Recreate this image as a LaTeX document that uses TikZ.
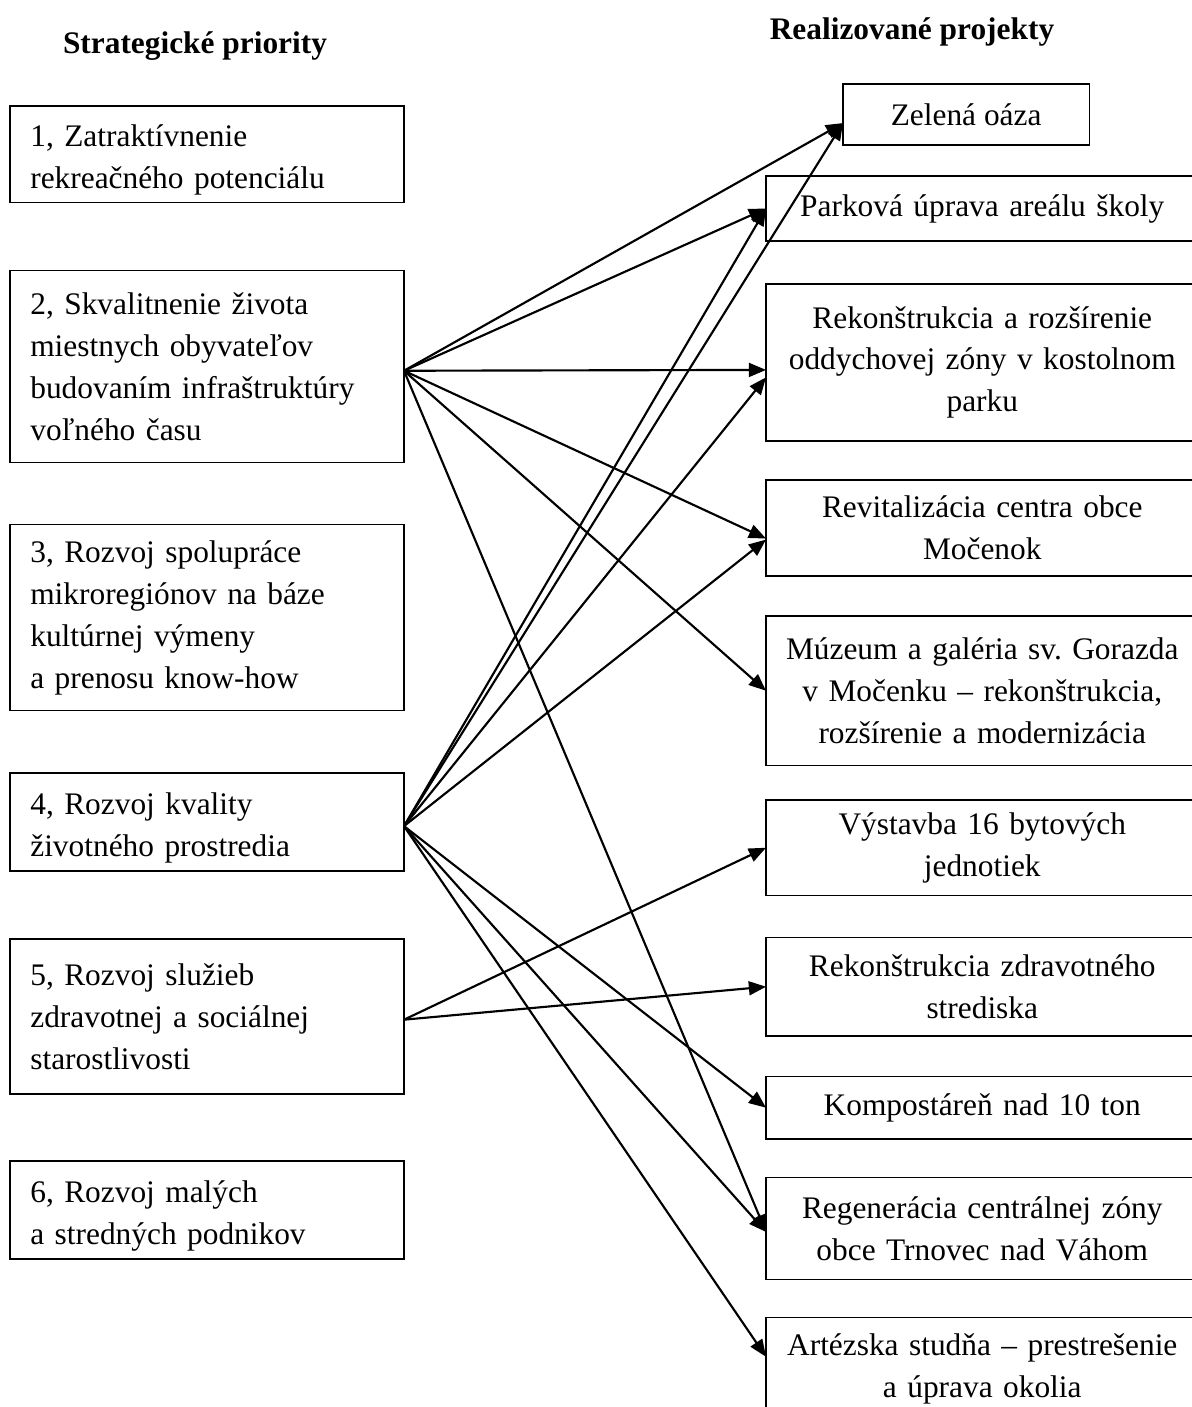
\documentclass[tikz,border=0pt]{standalone}
\usepackage{fontspec}
\setmainfont{Liberation Serif}
\usetikzlibrary{positioning,arrows.meta}
\frenchspacing

\begin{document}
\begin{tikzpicture}[x=0.467pt,y=-0.467pt,>={Triangle[length=8pt,width=6.5pt]},node distance=30pt,
    box/.style={draw,line width=0.7pt,outer sep=0pt,font=\fontsize{14.65pt}{19.6pt}\selectfont},
    prio node/.style={box,text width=165pt,inner xsep=9.5pt,align=left},
    low/.style={text height=15.6pt},
    proj node/.style={box,text width=190pt,inner xsep=6pt,align=center},
    head/.style={font=\bfseries\fontsize{14.65pt}{17pt}\selectfont}]
    \useasboundingbox (0,0) rectangle (1192,1407);

    \node[head] (hprio) at (195,46) {Strategické priority};
    \node[head] (hproj) at (912,32) {Realizované projekty};

    % strategicke priority
    \node[prio node,low,minimum height=44.8pt,anchor=north west] (p1) at (10,106) {1, Zatraktívnenie\\rekreačného potenciálu};
    \node[prio node,minimum height=89.7pt] (p2) [below=31.8pt of p1] {2, Skvalitnenie života\\miestnych obyvateľov\\budovaním infraštruktúry\\voľného času};
    \node[prio node,minimum height=86.9pt] (p3) [below=29pt of p2] {3, Rozvoj spolupráce\\mikroregiónov na báze\\kultúrnej výmeny\\a prenosu know-how};
    \node[prio node,low,minimum height=45.8pt] (p4) [below=29pt of p3] {4, Rozvoj kvality\\životného prostredia};
    \node[prio node,minimum height=72.4pt] (p5) [below=31.8pt of p4] {5, Rozvoj služieb\\zdravotnej a sociálnej\\starostlivosti};
    \node[prio node,low,minimum height=45.8pt] (p6) [below=31.3pt of p5] {6, Rozvoj malých\\a stredných podnikov};

    % realizovane projekty
    \node[box,minimum width=115pt,minimum height=28.5pt,anchor=north west] (zelena) at (843,84) {Zelená oáza};
    \node[proj node,minimum height=30.4pt,anchor=north west] (parkova) at (766,176) {Parková úprava areálu školy};
    \node[proj node,minimum height=73.3pt] (rekon) [below=20pt of parkova] {Rekonštrukcia a rozšírenie\\oddychovej zóny v kostolnom\\parku};
    \node[proj node,minimum height=44.8pt] (revit) [below=18.2pt of rekon] {Revitalizácia centra obce\\Močenok};
    \node[proj node,minimum height=70pt] (muzeum) [below=18.7pt of revit] {Múzeum a galéria sv. Gorazda\\v Močenku – rekonštrukcia,\\rozšírenie a modernizácia};
    \node[proj node,minimum height=44.8pt] (vystavba) [below=15.9pt of muzeum] {Výstavba 16 bytových\\jednotiek};
    \node[proj node,minimum height=45.8pt] (zdrav) [below=19.6pt of vystavba] {Rekonštrukcia zdravotného\\strediska};
    \node[proj node,minimum height=29pt] (kompost) [below=19.1pt of zdrav] {Kompostáreň nad 10 ton};
    \node[proj node,minimum height=47.6pt] (regener) [below=18.2pt of kompost] {Regenerácia centrálnej zóny\\obce Trnovec nad Váhom};
    \node[proj node,minimum height=47.6pt] (artez) [below=17.7pt of regener] {Artézska studňa – prestrešenie\\a úprava okolia};

    \path[->,line width=1pt]
        ([yshift=-2pt]p2.east) edge ([yshift=-4pt]zelena.west)
        ([yshift=-2pt]p2.east) edge (parkova.west)
        ([yshift=-2pt]p2.east) edge ([yshift=-3.5pt]rekon.west)
        ([yshift=-2pt]p2.east) edge ([yshift=-5pt]revit.west)
        ([yshift=-2pt]p2.east) edge (muzeum.west)
        ([yshift=-2pt]p2.east) edge ([yshift=-1.5pt]regener.west)
        ([yshift=-2pt]p4.east) edge ([yshift=-4pt]zelena.west)
        ([yshift=-2pt]p4.east) edge (parkova.west)
        ([yshift=-2pt]p4.east) edge ([yshift=-7pt]rekon.west)
        ([yshift=-2pt]p4.east) edge ([yshift=-5.5pt]revit.west)
        ([yshift=-2pt]p4.east) edge (kompost.west)
        ([yshift=-2pt]p4.east) edge ([yshift=-1.5pt]regener.west)
        ([yshift=-2pt]p4.east) edge ([yshift=5.5pt]artez.west)
        ([yshift=-1.5pt]p5.east) edge (vystavba.west)
        ([yshift=-1.5pt]p5.east) edge (zdrav.west)
        ;
\end{tikzpicture}
\end{document}
